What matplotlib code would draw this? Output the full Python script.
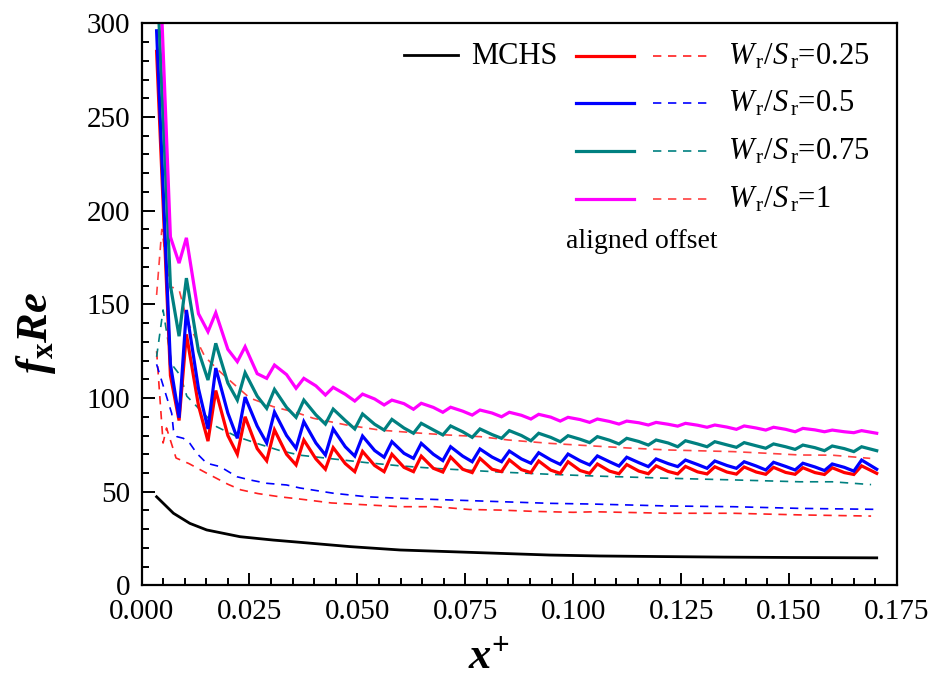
import matplotlib
matplotlib.use("Agg")
import matplotlib.pyplot as plt
from matplotlib.lines import Line2D
from matplotlib.ticker import MultipleLocator, FormatStrFormatter

plt.rcParams['font.family'] = ['Liberation Serif', 'DejaVu Serif']
plt.rcParams['mathtext.fontset'] = 'custom'
plt.rcParams['mathtext.rm'] = 'Liberation Serif'
plt.rcParams['mathtext.it'] = 'Liberation Serif:italic'
plt.rcParams['mathtext.bf'] = 'Liberation Serif:bold'
plt.rcParams['mathtext.bfit'] = 'Liberation Serif:italic:bold'

# ---------------- data ----------------
# smooth channel (MCHS)
x_mchs = [0.0035, 0.0074, 0.0112, 0.0151, 0.0228, 0.0305, 0.0367, 0.0483, 0.0599,
          0.0715, 0.0830, 0.0946, 0.1062, 0.1200, 0.1350, 0.1500, 0.1703]
f_mchs = [47.3, 38.5, 33.1, 29.6, 26.0, 24.2, 23.0, 20.7, 18.9,
          18.0, 17.1, 16.2, 15.7, 15.4, 15.1, 14.9, 14.7]

# aligned ribs: common axial stations (peak / mid / trough for each rib period)
x_aligned = [0.0035, 0.0067, 0.0087,
             0.0104, 0.0132, 0.0154,
             0.0172, 0.0200, 0.0222,
             0.0240, 0.0268, 0.0290,
             0.0308, 0.0336, 0.0358,
             0.0376, 0.0404, 0.0426,
             0.0444, 0.0472, 0.0494,
             0.0512, 0.0540, 0.0562,
             0.0580, 0.0608, 0.0630,
             0.0648, 0.0676, 0.0698,
             0.0716, 0.0744, 0.0766,
             0.0784, 0.0812, 0.0834,
             0.0852, 0.0880, 0.0902,
             0.0920, 0.0948, 0.0970,
             0.0988, 0.1016, 0.1038,
             0.1056, 0.1084, 0.1106,
             0.1124, 0.1152, 0.1174,
             0.1192, 0.1220, 0.1242,
             0.1260, 0.1288, 0.1310,
             0.1328, 0.1356, 0.1378,
             0.1396, 0.1424, 0.1446,
             0.1464, 0.1492, 0.1514,
             0.1532, 0.1560, 0.1582,
             0.1600, 0.1628, 0.1650,
             0.1668, 0.1703]

f_aligned_025 = [285, 112, 88,
                 134, 96, 77,
                 104, 80, 70,
                 90, 73, 66.5,
                 83, 70, 64.3,
                 77.6, 67.5, 62,
                 73.5, 65, 60.7,
                 71.5, 64, 60.7,
                 70, 63, 60.7,
                 69, 62.5, 60.5,
                 68.5, 62, 60.2,
                 67.8, 62, 60.7,
                 67, 61.8, 60.2,
                 66.4, 61.5, 59.8,
                 66, 61.3, 59.8,
                 64.8, 61, 59.6,
                 64.5, 61, 59.6,
                 63.8, 60.8, 59.5,
                 63.5, 60.6, 59.5,
                 63.3, 60.5, 59.4,
                 63.2, 60.5, 59.3,
                 63, 60.3, 59.3,
                 62.8, 60.2, 59.2,
                 62.8, 60.2, 59.2,
                 63.8, 59.8]

f_aligned_05 = [296, 118, 89.5,
                147, 105, 83.5,
                116, 92, 78.5,
                100.5, 85, 76,
                92.5, 80, 73.2,
                87.4, 76, 69.6,
                83.5, 74, 69,
                79.7, 72, 68.4,
                76.7, 70.5, 67.8,
                75.8, 70, 66.6,
                74, 69, 66,
                72.8, 68.5, 66,
                71.7, 67.5, 65.2,
                70.8, 67, 64.6,
                70.1, 66.5, 64.3,
                69.1, 66, 63.7,
                68.4, 65.5, 63.4,
                67.5, 65, 63.4,
                66.9, 64.5, 62.5,
                66.4, 64, 62.5,
                66, 63.7, 61.6,
                65.7, 63.5, 61.6,
                65.2, 63.2, 61.3,
                64.8, 63, 61,
                66.9, 62]

f_aligned_075 = [330, 160, 133,
                 164, 125, 109.6,
                 129.2, 108, 98.9,
                 113.5, 101, 94.5,
                 104.6, 95, 89.7,
                 98.9, 91, 86.1,
                 94.1, 88, 83.5,
                 91.5, 86, 82.9,
                 88.6, 84, 81.2,
                 86.5, 83, 80.3,
                 85.1, 82, 79,
                 83.5, 80.5, 78.5,
                 82.6, 80, 77.2,
                 81.2, 79, 76.7,
                 79.9, 78, 76.2,
                 79.4, 77.5, 75.5,
                 78.5, 76.8, 74.9,
                 77.6, 76, 74,
                 77.2, 75.5, 74,
                 76.7, 75, 73.7,
                 76.2, 74.5, 73.2,
                 75.5, 74, 72.6,
                 74.9, 73.5, 71.9,
                 74.4, 73, 71.4,
                 74, 71.9]

f_aligned_1 = [375, 186, 172,
               185.5, 145, 135.4,
               145.5, 126, 119.4,
               127.4, 113, 110.5,
               117.6, 112.5, 105.2,
               110.5, 106.5, 101.6,
               105.7, 102, 98.4,
               102.1, 99.5, 96.3,
               98.9, 97, 94,
               97.2, 95, 92.4,
               95.1, 93, 90.9,
               93.6, 92, 90,
               92.4, 90.8, 88.8,
               91.3, 89.8, 87.7,
               89.7, 88.5, 87,
               88.8, 87.5, 86.1,
               87.7, 86.8, 85.6,
               87, 86, 85,
               86.5, 85.5, 84.4,
               85.6, 84.5, 83.3,
               85.1, 84, 82.9,
               84.4, 83.3, 82,
               83.8, 83, 82,
               82.9, 82, 81.5,
               82.6, 81.2]

# offset ribs
x_offset_025 = [0.0035, 0.0050, 0.0058, 0.0080, 0.0110, 0.0150, 0.0200, 0.0230, 0.0270,
                0.0320, 0.0370, 0.0440, 0.0520, 0.0600, 0.0680, 0.0760, 0.0830, 0.0910,
                0.1000, 0.1050, 0.1220, 0.1370, 0.1530, 0.1690]
f_offset_025 = [125, 76, 84, 68, 65, 60, 54, 51, 49,
                47.3, 46, 44, 43, 42, 42, 40.5, 40.2, 39.5,
                39, 39.3, 38.5, 38.5, 37.6, 37]

x_offset_05 = [0.0035, 0.0070, 0.0074, 0.0082, 0.0097, 0.0112, 0.0128, 0.0151, 0.0182,
               0.0221, 0.0251, 0.0290, 0.0336, 0.0367, 0.0444, 0.0522, 0.0599, 0.0715,
               0.0830, 0.0946, 0.1047, 0.1217, 0.1371, 0.1525, 0.1699]
f_offset_05 = [118, 91.8, 82.9, 79.4, 78.5, 75.8, 70.5, 65.2, 63.4,
               58, 56.3, 54.5, 53.6, 52, 49.2, 47.3, 46.5, 45.6,
               44.7, 43.8, 43.4, 42.4, 42, 41.1, 40.6]

x_offset_075 = [0.0035, 0.0050, 0.0070, 0.0090, 0.0105, 0.0136, 0.0174, 0.0221, 0.0267,
                0.0320, 0.0367, 0.0444, 0.0522, 0.0599, 0.0676, 0.0754, 0.0830, 0.0946,
                0.1047, 0.1217, 0.1371, 0.1525, 0.1600, 0.1690]
f_offset_075 = [122, 147, 118, 112, 101, 93.6, 84.7, 79.4, 75.8,
                72, 69.5, 67.5, 65.5, 63.8, 62.5, 61.5, 60.5, 59.3,
                58.4, 57.2, 56.3, 55.3, 55.3, 53.8]

x_offset_1 = [0.0035, 0.0047, 0.0066, 0.0073, 0.0088, 0.0097, 0.0108, 0.0147, 0.0182,
              0.0221, 0.0251, 0.0305, 0.0362, 0.0398, 0.0475, 0.0552, 0.0630, 0.0707,
              0.0784, 0.0850, 0.0946, 0.1047, 0.1130, 0.1217, 0.1300, 0.1370, 0.1450,
              0.1525, 0.1600, 0.1688]
f_offset_1 = [155, 190, 159, 159, 157, 149, 140, 122, 114,
              106, 100, 95.4, 92, 89.2, 85.6, 82.9, 81.5, 80.3,
              79.4, 77.6, 75.8, 74.4, 73.3, 72.3, 71.8, 71.4, 70.5,
              69.6, 69.5, 67.8]

ratio_labels = ['0.25', '0.5', '0.75', '1']
solid_colors = ['#ff0000', '#0000ff', '#008080', '#ff00ff']
dash_colors = ['#ff2020', '#0000ff', '#008080', '#ff4040']

# ---------------- figure ----------------
W, H = 933, 689
fig = plt.figure(figsize=(W / 100, H / 100), dpi=100)
ax = fig.add_axes([141.5 / W, 1 - 585.4 / H, 755.5 / W, 562.1 / H])

aligned = [f_aligned_025, f_aligned_05, f_aligned_075, f_aligned_1]
offsets = [(x_offset_025, f_offset_025), (x_offset_05, f_offset_05),
           (x_offset_075, f_offset_075), (x_offset_1, f_offset_1)]

dash_pat = (5.0, 4.0)
for (xo, fo), c in zip(offsets, dash_colors):
    ax.plot(xo, fo, color=c, lw=1.2, dashes=dash_pat)
ax.plot(x_mchs, f_mchs, color='black', lw=2.0)
for fa, c in zip(aligned, solid_colors):
    ax.plot(x_aligned, fa, color=c, lw=2.3, solid_joinstyle='miter')

ax.set_xlim(0, 0.175)
ax.set_ylim(0, 300)
ax.xaxis.set_major_locator(MultipleLocator(0.025))
ax.xaxis.set_minor_locator(MultipleLocator(0.005))
ax.yaxis.set_major_locator(MultipleLocator(50))
ax.yaxis.set_minor_locator(MultipleLocator(10))
ax.xaxis.set_major_formatter(FormatStrFormatter('%.3f'))
ax.tick_params(which='both', direction='in', top=False, right=False,
               labelsize=21, width=1.4)
ax.tick_params(which='major', length=9, pad=8)
ax.tick_params(axis='x', which='major', pad=10)
ax.tick_params(which='minor', length=5)
for s in ax.spines.values():
    s.set_linewidth(1.6)

ax.set_xlabel(r'$\mathbfit{x}^{\mathbf{+}}$', fontsize=32)
ax.xaxis.set_label_coords(0.46, -0.093)
ax.set_ylabel(r'$\mathbfit{f}_{\mathbf{x}}\mathbfit{Re}$', fontsize=32)
ax.yaxis.set_label_coords(-0.11, 0.45)

# ---------------- legend ----------------
def fx(px):
    return px / W

def fy(py):
    return 1 - py / H

fig.add_artist(Line2D([fx(404), fx(458)], [fy(55), fy(55)], color='black', lw=2.0))
fig.text(fx(471), fy(56), 'MCHS', fontsize=22, va='center', ha='left')
row_y = [56, 103, 151, 199]
for lab, cs, cd, yy in zip(ratio_labels, solid_colors, dash_colors, row_y):
    fig.add_artist(Line2D([fx(576), fx(634)], [fy(yy), fy(yy)], color=cs, lw=2.3))
    fig.add_artist(Line2D([fx(653), fx(710)], [fy(yy), fy(yy)], color=cd, lw=1.2,
                          dashes=dash_pat))
    fig.text(fx(728), fy(yy + 1), r'$W_{\,\rm r}/S_{\,\rm r}$=' + lab, fontsize=22,
             va='center', ha='left')
fig.text(fx(566), fy(241), 'aligned offset', fontsize=20, va='center', ha='left')

fig.savefig('out.png', dpi=100)
